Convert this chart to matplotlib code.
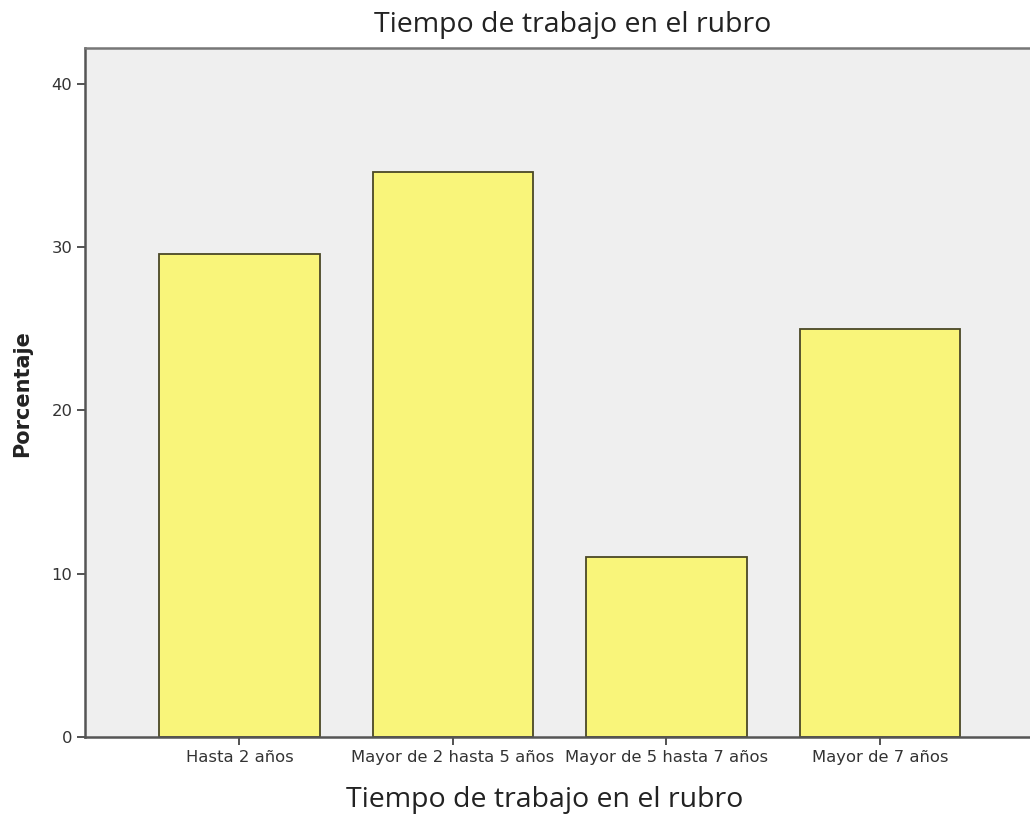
import numpy as np
import matplotlib.pyplot as plt

# Tiempo de trabajo en el rubro (porcentaje)
categorias = ["Hasta 2 años", "Mayor de 2 hasta 5 años", "Mayor de 5 hasta 7 años", "Mayor de 7 años"]
porcentaje = [29.6, 34.6, 11.0, 25.0]

fig = plt.figure(figsize=(10.3, 8.16), dpi=100)
ax = fig.add_axes([0.0825, 0.0968, 0.9175, 0.8444])
ax.set_facecolor("#efefef")

x = np.arange(len(categorias))
ax.bar(x, porcentaje, width=0.75, color="#f9f57a", edgecolor="#4a4826", linewidth=1.3, zorder=2)

ax.set_xlim(-0.7237, 3.7026)
ax.set_ylim(0, 42.2)
ax.set_yticks([0, 10, 20, 30, 40])
ax.set_xticks(x)
ax.set_xticklabels(categorias, family="DejaVu Sans", fontsize=11.8, color="#333333")
for t in ax.get_yticklabels():
    t.set_family("DejaVu Sans")
    t.set_fontsize(11.8)
    t.set_color("#333333")

ax.tick_params(axis="both", direction="out", length=6, width=1.3, color="#444444", pad=3)

ax.spines["right"].set_visible(False)
ax.spines["left"].set_color("#555555")
ax.spines["left"].set_linewidth(1.8)
ax.spines["bottom"].set_color("#555555")
ax.spines["bottom"].set_linewidth(1.8)
ax.spines["top"].set_color("#777777")
ax.spines["top"].set_linewidth(1.8)

fig.text(0.556, 0.969, "Tiempo de trabajo en el rubro", ha="center", va="center",
         family="Open Sans", fontsize=20.5, color="#222222")
fig.text(0.529, 0.020, "Tiempo de trabajo en el rubro", ha="center", va="center",
         family="Open Sans", fontsize=20.5, color="#222222")
fig.text(0.021, 0.518, "Porcentaje", ha="center", va="center", rotation=90,
         family="DejaVu Sans", fontsize=15, fontweight="bold", color="#222222")

plt.savefig("out.png")
